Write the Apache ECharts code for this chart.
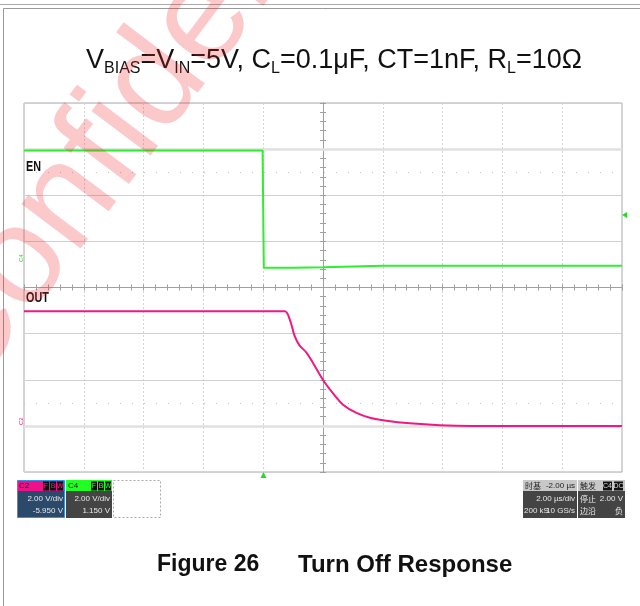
<!DOCTYPE html>
<html>
<head>
<meta charset="utf-8">
<script src="https://cdn.jsdelivr.net/npm/echarts@6/dist/echarts.min.js"></script>
<style>
  html, body { margin: 0; padding: 0; background: #fff; }
  #main { width: 640px; height: 606px; }
</style>
</head>
<body>
<div id="main"></div>
<script>
// scope settings
var voltsPerDiv = 2;
var enGroundDiv = 0.43;   // C4 ground position, divisions from centre
var outGroundDiv = -3.0;  // C2 ground position

// EN (C4), time in us from trigger, volts
var enTime = [-8, -0.02, 0.02, 1, 2, 3, 4, 6, 8, 10, 12];
var enVolt = [5.08, 5.08, 0.0, 0.0, 0.02, 0.05, 0.08, 0.08, 0.08, 0.08, 0.08];

// OUT (C2)
var outTime = [-8, 0.72, 0.89, 1.05, 1.22, 1.44, 1.67, 2.0, 2.33, 2.67, 3.12, 3.57, 4.12, 4.9, 5.9, 7.0, 12];
var outVolt = [4.97, 4.97, 4.61, 3.9, 3.48, 3.19, 2.72, 1.99, 1.42, 0.92, 0.56, 0.35, 0.22, 0.11, 0.03, 0.0, 0.0];

var xTicks = { min: -8, max: 12, step: 2 };   // 2 us/div, 10 div
var yTicks = { min: -4, max: 4, step: 1 };    // 8 div

function toDiv(times, volts, ground) {
  return times.map(function (t, i) { return [t, volts[i] / voltsPerDiv + ground]; });
}

var chart = echarts.init(document.getElementById('main'));

var sans = '"Liberation Sans", Arial, sans-serif';
var narrow = '"Liberation Sans Narrow", "Liberation Sans", Arial, sans-serif';
var cjk = '"Noto Sans CJK SC", "Liberation Sans", sans-serif';

function txt(x, y, s, opt) {
  opt = opt || {};
  return {
    type: 'text', x: x, y: y, z: 20, scaleX: opt.sx || 1,
    style: {
      text: s, fill: opt.fill || '#e8e8e8',
      font: (opt.weight || 'normal') + ' ' + (opt.size || 8) + 'px ' + (opt.family || narrow),
      textAlign: opt.align || 'left', textVerticalAlign: 'middle'
    }
  };
}
function box(x, y, w, h, fill, stroke, dash) {
  return {
    type: 'rect', z: 15,
    shape: { x: x, y: y, width: w, height: h },
    style: { fill: fill, stroke: stroke || null, lineWidth: 1, lineDash: dash || null }
  };
}

var graphics = [
  // page frame
  { type: 'line', shape: { x1: 0, y1: 4.5, x2: 640, y2: 4.5 }, style: { stroke: '#aaa', lineWidth: 1 } },
  { type: 'rect', shape: { x: 3.5, y: 8.5, width: 700, height: 700 }, style: { fill: null, stroke: '#999', lineWidth: 1 } },

  // channel names
  txt(26, 167, 'EN', { fill: '#111', weight: 'bold', size: 15, sx: 0.72, family: sans }),
  txt(26, 298, 'OUT', { fill: '#111', weight: 'bold', size: 15, sx: 0.72, family: sans }),

  // ground markers
  { type: 'text', x: 18, y: 262, rotation: Math.PI / 2, z: 20,
    style: { text: 'C4', fill: '#22dd22', font: '6px ' + narrow } },
  { type: 'text', x: 18, y: 425, rotation: Math.PI / 2, z: 20,
    style: { text: 'C2', fill: '#f01882', font: '6px ' + narrow } },

  // trigger markers
  { type: 'polygon', z: 20, shape: { points: [[263.5, 472], [260.5, 478], [266.5, 478]] }, style: { fill: '#22dd22' } },
  { type: 'polygon', z: 20, shape: { points: [[622, 215], [627, 212], [627, 218]] }, style: { fill: '#22dd22' } },

  // C2 panel
  box(17.5, 480.5, 47, 37, '#2b4a6b', '#3a8ee6'),
  box(18, 481, 46, 10, '#f0108a'),
  box(43, 481.5, 6, 9, '#111'), box(50, 481.5, 6, 9, '#111'), box(57, 481.5, 6, 9, '#111'),
  txt(19, 486, 'C2', { fill: '#222' }),
  txt(46, 486, 'F', { fill: '#f0108a', align: 'center', size: 7 }),
  txt(53, 486, 'B', { fill: '#f0108a', align: 'center', size: 7 }),
  txt(60, 486, 'W', { fill: '#f0108a', align: 'center', size: 7 }),
  txt(63, 499, '2.00 V/div', { align: 'right' }),
  txt(63, 511, '-5.950 V', { align: 'right' }),

  // C4 panel
  box(66, 480, 46, 38, '#444'),
  box(66, 480, 46, 11, '#22ff22'),
  box(91, 481.5, 6, 9, '#111'), box(98, 481.5, 6, 9, '#111'), box(105, 481.5, 6, 9, '#111'),
  txt(68, 486, 'C4', { fill: '#222' }),
  txt(94, 486, 'F', { fill: '#22ff22', align: 'center', size: 7 }),
  txt(101, 486, 'B', { fill: '#22ff22', align: 'center', size: 7 }),
  txt(108, 486, 'W', { fill: '#22ff22', align: 'center', size: 7 }),
  txt(110, 499, '2.00 V/div', { align: 'right' }),
  txt(110, 511, '1.150 V', { align: 'right' }),

  // empty slot
  box(113.5, 480.5, 47, 37, '#fff', '#aaa', [2, 2]),

  // timebase panel
  box(523, 480, 54, 38, '#444'),
  box(523, 480, 54, 11, '#c8c8c8'),
  txt(525, 486, '时基', { fill: '#222', family: cjk }),
  txt(575, 486, '-2.00 µs', { fill: '#222', align: 'right' }),
  txt(575, 499, '2.00 µs/div', { align: 'right' }),
  txt(524, 511, '200 kS', {}),
  txt(575, 511, '10 GS/s', { align: 'right' }),

  // trigger panel
  box(578, 480, 47, 38, '#444'),
  box(578, 480, 47, 11, '#c8c8c8'),
  box(603, 481.5, 9, 9, '#111'), box(614, 481.5, 9, 9, '#111'),
  txt(580, 486, '触发', { fill: '#222', family: cjk }),
  txt(607.5, 486, 'C4', { fill: '#ddd', align: 'center', size: 7 }),
  txt(618.5, 486, 'DC', { fill: '#ddd', align: 'center', size: 7 }),
  txt(580, 499, '停止', { family: cjk }),
  txt(623, 499, '2.00 V', { align: 'right' }),
  txt(580, 511, '边沿', { family: cjk }),
  txt(623, 511, '负', { align: 'right', family: cjk }),

  // caption
  txt(157, 565, 'Figure 26', { fill: '#111', weight: 'bold', size: 23, family: sans }),
  txt(298, 565, 'Turn Off Response', { fill: '#111', weight: 'bold', size: 24, family: sans }),

  // watermark
  { type: 'text', x: -8, y: 418, rotation: 53 * Math.PI / 180, z: 50, silent: true,
    style: { text: 'Confidential', fill: 'rgba(240,40,40,0.25)',
      font: '140px ' + sans, textVerticalAlign: 'bottom' } }
];

function centreAxis(extra) {
  return Object.assign({
    type: 'value', gridIndex: 0,
    axisLine: { show: true, lineStyle: { color: '#a0a0a0', width: 1 } },
    axisTick: { show: true, length: 3, lineStyle: { color: '#a0a0a0' } },
    minorTick: { show: true, splitNumber: 5, length: 3, lineStyle: { color: '#a0a0a0' } },
    axisLabel: { show: false },
    splitLine: { show: false }
  }, extra);
}

var option = {
  animation: false,
  backgroundColor: '#fff',
  title: {
    left: 81, top: 40,
    text: '{n|V}{s|BIAS}{n|=V}{s|IN}{n|=5V, C}{s|L}{n|=0.1μF, CT=1nF, R}{s|L}{n|=10Ω}',
    textStyle: {
      fontWeight: 'normal',
      rich: {
        n: { fontSize: 27, fontWeight: 'normal', color: '#111', fontFamily: sans, lineHeight: 32 },
        s: { fontSize: 16, fontWeight: 'normal', color: '#111', fontFamily: sans, lineHeight: 29, verticalAlign: 'bottom' }
      }
    }
  },
  grid: {
    left: 24, top: 103, width: 598, height: 369,
    show: true, borderColor: '#aaa', borderWidth: 1, backgroundColor: '#fff'
  },
  xAxis: [
    {
      type: 'value', min: xTicks.min, max: xTicks.max, interval: xTicks.step,
      axisLine: { show: false }, axisTick: { show: false }, axisLabel: { show: false },
      splitLine: { show: true, lineStyle: { color: '#d4d4d4', type: [2, 2] } }
    },
    centreAxis({ min: xTicks.min, max: xTicks.max, interval: xTicks.step, position: 'bottom', offset: -184.5 }),
    centreAxis({ min: xTicks.min, max: xTicks.max, interval: xTicks.step, position: 'bottom', offset: -184.5,
      axisTick: { show: true, inside: true, length: 3, lineStyle: { color: '#a0a0a0' } },
      minorTick: { show: true, splitNumber: 5, length: 3, lineStyle: { color: '#a0a0a0' } } })
  ],
  yAxis: [
    {
      type: 'value', min: yTicks.min, max: yTicks.max, interval: yTicks.step, position: 'left',
      axisLine: { show: false }, axisTick: { show: false }, axisLabel: { show: false },
      splitLine: { show: true, lineStyle: { color: '#d0d0d0', width: 1 } }
    },
    centreAxis({ min: yTicks.min, max: yTicks.max, interval: yTicks.step, position: 'left', offset: -299 }),
    centreAxis({ min: yTicks.min, max: yTicks.max, interval: yTicks.step, position: 'left', offset: -299,
      axisTick: { show: true, inside: true, length: 3, lineStyle: { color: '#a0a0a0' } },
      minorTick: { show: true, splitNumber: 5, length: 3, lineStyle: { color: '#a0a0a0' } } })
  ],
  graphic: graphics,
  series: [
    {
      name: 'EN', type: 'line', xAxisIndex: 0, yAxisIndex: 0,
      data: toDiv(enTime, enVolt, enGroundDiv),
      showSymbol: false, z: 10,
      lineStyle: { color: '#2cf02c', width: 2 },
      markLine: {
        silent: true, symbol: 'none', label: { show: false },
        data: [
          { yAxis: 3, lineStyle: { color: '#e0e0e0', width: 2.5, type: 'solid' } },
          { yAxis: -3, lineStyle: { color: '#e0e0e0', width: 2.5, type: 'solid' } },
          { yAxis: 2.5, lineStyle: { color: '#c4c4c4', width: 1, type: [1, 11] } },
          { yAxis: -2.5, lineStyle: { color: '#c4c4c4', width: 1, type: [1, 11] } }
        ]
      }
    },
    {
      name: 'OUT', type: 'line', xAxisIndex: 0, yAxisIndex: 0,
      data: toDiv(outTime, outVolt, outGroundDiv),
      showSymbol: false, smooth: 0.3, z: 10,
      lineStyle: { color: '#f01882', width: 2 }
    }
  ]
};
option && chart.setOption(option);
</script>
</body>
</html>
